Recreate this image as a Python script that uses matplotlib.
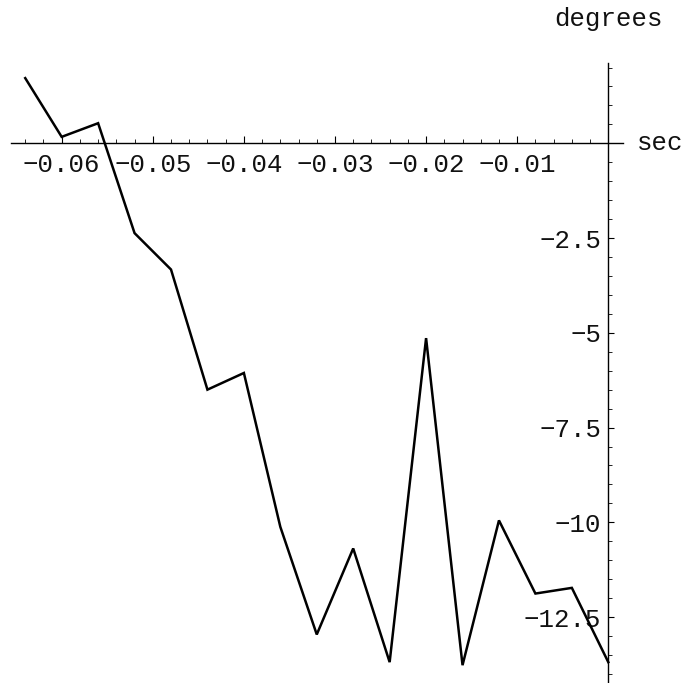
import matplotlib
matplotlib.use("Agg")
import matplotlib.pyplot as plt
import numpy as np
from matplotlib.ticker import FixedLocator

# sample times (sec) and angle (degrees)
times = [-0.064, -0.060, -0.056, -0.052, -0.048, -0.044, -0.040, -0.036, -0.032,
         -0.028, -0.024, -0.020, -0.016, -0.012, -0.008, -0.004, 0.0]
angles = [1.72, 0.17, 0.53, -2.37, -3.33, -6.50, -6.06, -10.12, -12.96,
          -10.69, -13.69, -5.14, -13.77, -9.95, -11.88, -11.73, -13.69]

x_ticks = [-0.06, -0.05, -0.04, -0.03, -0.02, -0.01]
x_labels = ["\u22120.06", "\u22120.05", "\u22120.04", "\u22120.03", "\u22120.02", "\u22120.01"]
y_ticks = [-2.5, -5, -7.5, -10, -12.5]
y_labels = ["\u22122.5", "\u22125", "\u22127.5", "\u221210", "\u221212.5"]

font = "Liberation Mono"
fs = 18.5
ink = "#111111"

fig = plt.figure(figsize=(6.86, 6.83), dpi=100)
ax = fig.add_axes([0, 0, 1, 1])
ax.set_xlim(-0.06677, 0.00853)
ax.set_ylim(-14.24, 3.781)

ax.plot(times, angles, color="black", lw=1.8, solid_joinstyle="miter")

# axes crossing at the origin
for side in ("top", "right"):
    ax.spines[side].set_visible(False)
ax.spines["left"].set_position(("data", 0))
ax.spines["bottom"].set_position(("data", 0))
ax.spines["left"].set_bounds(-14.24, 2.11)
ax.spines["bottom"].set_bounds(-0.06557, 0.00161)
for side in ("left", "bottom"):
    ax.spines[side].set_linewidth(1.0)

ax.set_xticks(x_ticks)
ax.set_xticklabels(x_labels, fontfamily=font, fontsize=fs, color=ink)
ax.set_yticks(y_ticks)
ax.set_yticklabels(y_labels, fontfamily=font, fontsize=fs, color=ink)
ax.xaxis.set_minor_locator(FixedLocator(np.arange(-0.064, -0.001, 0.002)))
ax.yaxis.set_minor_locator(FixedLocator(np.arange(-14.0, 2.01, 0.5)))
ax.tick_params(axis="x", which="major", direction="in", length=5, width=0.8, pad=7)
ax.tick_params(axis="x", which="minor", direction="in", length=3, width=0.6)
ax.tick_params(axis="y", which="major", direction="in", length=4, width=0.8, pad=5)
ax.tick_params(axis="y", which="minor", direction="in", length=3, width=0.6)

ax.text(0.00316, 0, "sec", fontfamily=font, fontsize=fs, color=ink,
        ha="left", va="center")
ax.text(0, 3.28, "degrees", fontfamily=font, fontsize=fs, color=ink,
        ha="center", va="center")

fig.savefig("out.png", dpi=100)
